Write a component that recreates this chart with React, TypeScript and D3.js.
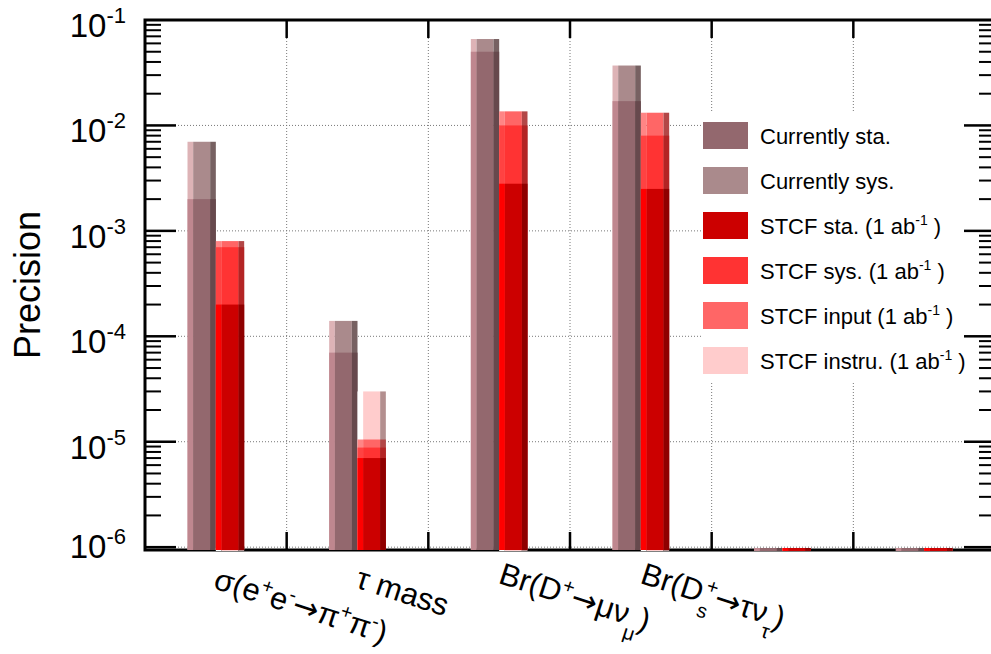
import React, { useEffect, useRef } from 'react';
import * as d3 from 'd3';

// bin contents (6 bins, last two empty)
const currentSta = [2e-3, 7e-5, 5e-2, 1.7e-2, 0, 0];
const currentSys = [7e-3, 1.4e-4, 6.6e-2, 3.7e-2, 0, 0];
const stcfSta = [2e-4, 7e-6, 2.8e-3, 2.5e-3, 0, 0];
const stcfSys = [7e-4, 8.8e-6, 1e-2, 8e-3, 0, 0];
const stcfInput = [8e-4, 1.05e-5, 1.36e-2, 1.32e-2, 0, 0];
const stcfInstru = [0, 3e-5, 0, 0, 0, 0];

const yTicks = [1e-6, 1e-5, 1e-4, 1e-3, 1e-2, 1e-1];
const yTickExp = ['-6', '-5', '-4', '-3', '-2', '-1'];

type Seg = [string, 'n' | 'sup' | 'sub' | 'arrow', number?];

const xLabels: Seg[][] = [
  [['σ(e', 'n'], ['+', 'sup'], ['e', 'n'], ['-', 'sup'], ['→', 'arrow'], ['π', 'n'], ['+', 'sup'], ['π', 'n'], ['-', 'sup'], [')', 'n']],
  [['τ mass', 'n']],
  [['Br(D', 'n'], ['+', 'sup'], ['→', 'arrow'], ['μν', 'n'], ['μ', 'sub'], [')', 'n']],
  [['Br(D', 'n'], ['s', 'sub'], ['+', 'sup', -8], ['→', 'arrow'], ['τν', 'n'], ['τ', 'sub'], [')', 'n']],
  [],
  [],
];

const legendLabels: Seg[][] = [
  [['Currently sta.', 'n']],
  [['Currently sys.', 'n']],
  [['STCF sta. (1 ab', 'n'], ['-1', 'sup'], [' )', 'n']],
  [['STCF sys. (1 ab', 'n'], ['-1', 'sup'], [' )', 'n']],
  [['STCF input (1 ab', 'n'], ['-1', 'sup'], [' )', 'n']],
  [['STCF instru. (1 ab', 'n'], ['-1', 'sup'], [' )', 'n']],
];
const legendColors = ['#93686e', '#aa8a8c', '#cc0000', '#ff3333', '#ff6666', '#ffcccc'];

const FONT = '"Liberation Sans", Arial, Helvetica, sans-serif';

const App = () => {
  const ref = useRef<SVGSVGElement>(null);

  useEffect(() => {
    const svg = d3.select(ref.current);
    svg.selectAll('*').remove();

    const frame = { left: 145, top: 20, right: 995, bottom: 550 };
    const nBins = currentSta.length;
    const yMin = 0.94e-6;

    const x = d3.scaleLinear().domain([0, nBins]).range([frame.left, frame.right]);
    const y = d3.scaleLog().domain([yMin, 0.1]).range([frame.bottom, frame.top]);

    const bright = (c: string) => {
      const r = d3.rgb(c);
      return d3.rgb(Math.min(255, r.r * 1.3), Math.min(255, r.g * 1.3), Math.min(255, r.b * 1.3)).toString();
    };
    const dark = (c: string) => {
      const r = d3.rgb(c);
      return d3.rgb(r.r * 0.7, r.g * 0.7, r.b * 0.7).toString();
    };

    const rich = (t: any, segs: Seg[], base: number, small: number, up: number, down: number) => {
      let cur = 0;
      segs.forEach(([s, k, dx]) => {
        const target = k === 'sup' ? -up : k === 'sub' ? down : 0;
        const sp = t.append('tspan')
          .attr('dy', target - cur)
          .attr('dx', dx || 0)
          .attr('font-size', k === 'n' || k === 'arrow' ? base : small)
          .text(s);
        if (k === 'arrow') sp.attr('font-family', '"DejaVu Sans", sans-serif');
        cur = target;
      });
    };

    svg.append('rect').attr('width', 991).attr('height', 654).attr('fill', '#fff');

    // grid
    const grid = svg.append('g').attr('stroke', '#777').attr('stroke-width', 1).attr('stroke-dasharray', '1 2');
    yTicks.slice(0, -1).forEach(t => {
      grid.append('line').attr('x1', frame.left).attr('x2', frame.right).attr('y1', y(t)).attr('y2', y(t));
    });
    d3.range(1, nBins).forEach(i => {
      grid.append('line').attr('x1', x(i)).attr('x2', x(i)).attr('y1', frame.top).attr('y2', frame.bottom);
    });

    // legend background hides grid
    svg.append('rect').attr('x', 702).attr('y', 112).attr('width', 261).attr('height', 271).attr('fill', '#fff');

    // frame
    svg.append('rect')
      .attr('x', frame.left).attr('y', frame.top)
      .attr('width', frame.right - frame.left).attr('height', frame.bottom - frame.top)
      .attr('fill', 'none').attr('stroke', '#000').attr('stroke-width', 3);

    // bars
    const bars = svg.append('g');
    const drawBars = (vals: number[], color: string, offset: number) => {
      vals.forEach((v, i) => {
        const x0 = x(i + offset);
        const w = x(i + offset + 0.2) - x0;
        const top = v > 0 ? y(v) : frame.bottom - 2;
        const bot = v > 0 ? frame.bottom : frame.bottom + 1;
        const parts: [number, number, string][] = [
          [0, 0.2, bright(color)],
          [0.2, 0.8, color],
          [0.8, 1, dark(color)],
        ];
        parts.forEach(([a, b, c]) => {
          bars.append('rect')
            .attr('x', x0 + a * w).attr('y', top)
            .attr('width', (b - a) * w).attr('height', bot - top)
            .attr('fill', c);
        });
      });
    };
    drawBars(currentSys, legendColors[1], 0.3);
    drawBars(currentSta, legendColors[0], 0.3);
    drawBars(stcfInstru, legendColors[5], 0.5);
    drawBars(stcfInput, legendColors[4], 0.5);
    drawBars(stcfSys, legendColors[3], 0.5);
    drawBars(stcfSta, legendColors[2], 0.5);

    // ticks
    const ticks = svg.append('g').attr('stroke', '#000');
    const decades = d3.range(-6, -1);
    decades.forEach(e => {
      d3.range(1, 10).forEach(m => {
        const v = m * Math.pow(10, e);
        const len = m === 1 ? 31 : 16;
        const yy = y(v);
        ticks.append('line').attr('x1', frame.left).attr('x2', frame.left + len).attr('y1', yy).attr('y2', yy)
          .attr('stroke-width', m === 1 ? 2.5 : 2);
        ticks.append('line').attr('x1', frame.right).attr('x2', frame.right - len).attr('y1', yy).attr('y2', yy)
          .attr('stroke-width', m === 1 ? 2.5 : 2);
      });
    });
    d3.range(1, nBins).forEach(i => {
      ticks.append('line').attr('x1', x(i)).attr('x2', x(i)).attr('y1', frame.top).attr('y2', frame.top + 18).attr('stroke-width', 2.5);
      ticks.append('line').attr('x1', x(i)).attr('x2', x(i)).attr('y1', frame.bottom).attr('y2', frame.bottom - 18).attr('stroke-width', 2.5);
    });

    // y tick labels
    yTicks.forEach((t, i) => {
      const txt = svg.append('text')
        .attr('x', 126).attr('y', y(t) + (i === 0 ? 11 : 17))
        .attr('text-anchor', 'end').attr('font-family', FONT).attr('fill', '#000');
      rich(txt, [['10', 'n'], [yTickExp[i], 'sup']], 33, 22, 14, 0);
    });

    // y title
    svg.append('text')
      .attr('transform', 'translate(40,285) rotate(-90)')
      .attr('text-anchor', 'middle').attr('font-family', FONT).attr('font-size', 36)
      .text('Precision');

    // x labels
    xLabels.forEach((segs, i) => {
      if (!segs.length) return;
      const g = svg.append('g').attr('transform', `translate(${x(i + 0.5)},577) rotate(18)`);
      const txt = g.append('text').attr('x', 0).attr('y', 0).attr('font-family', FONT).attr('fill', '#000');
      rich(txt, segs, 31, 20, 12, 14);
      const bb = (txt.node() as SVGTextElement).getBBox();
      txt.attr('y', -(bb.y + bb.height / 2));
    });

    // legend
    legendLabels.forEach((segs, i) => {
      const cy = 135.5 + i * 45;
      svg.append('rect').attr('x', 703).attr('y', cy - 13.5).attr('width', 45).attr('height', 27).attr('fill', legendColors[i]);
      const txt = svg.append('text').attr('x', 760).attr('y', cy + 8).attr('font-family', FONT).attr('fill', '#000');
      rich(txt, segs, 22, 14, 9, 0);
    });
  }, []);

  return (
    <div className="App">
      <svg ref={ref} width={991} height={654} style={{ position: 'absolute', left: 0, top: 0 }} />
    </div>
  );
};

export default App;
